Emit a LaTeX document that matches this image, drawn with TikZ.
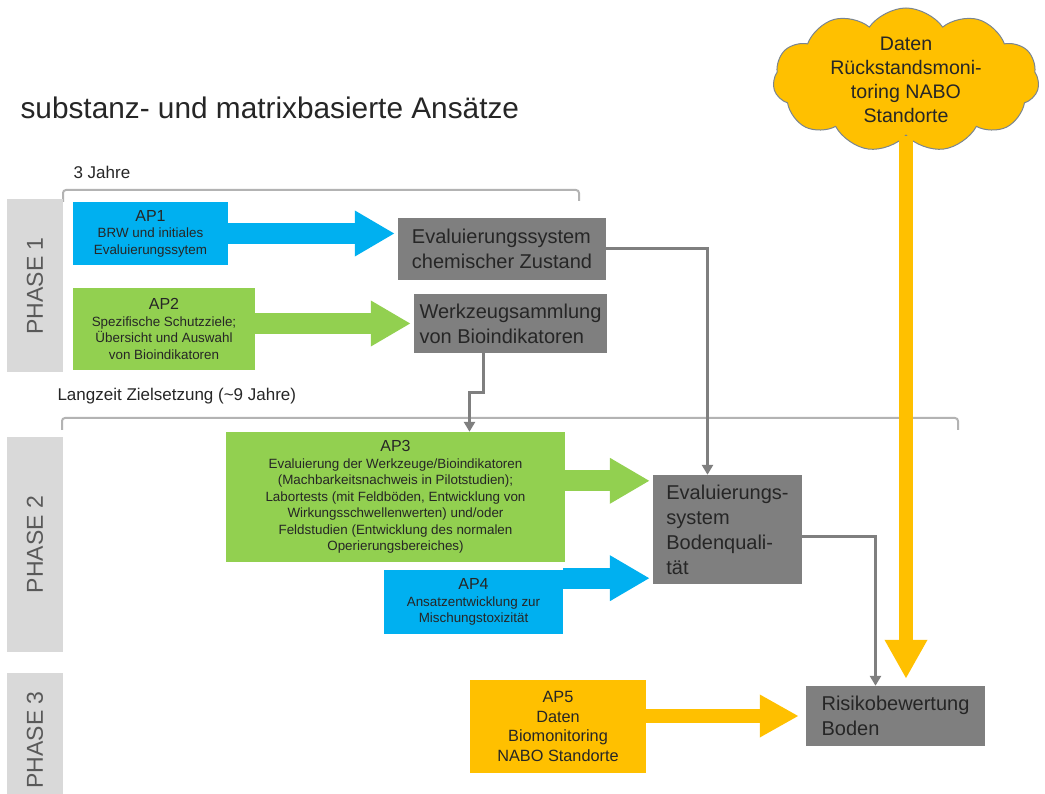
\documentclass[tikz,border=0pt]{standalone}
\usepackage{fontspec}
\setmainfont{Liberation Sans}
\usepackage{tikz}
\usetikzlibrary{arrows.meta, positioning, shapes.symbols, calc}

\definecolor{apblue}{HTML}{00B0F0}
\definecolor{apgreen}{HTML}{92D050}
\definecolor{apyellow}{HTML}{FFC000}
\definecolor{boxgray}{HTML}{7F7F7F}
\definecolor{phasegray}{HTML}{D9D9D9}
\definecolor{bracegray}{HTML}{B3B3B3}
\definecolor{textgray}{HTML}{262626}
\definecolor{cloudedge}{HTML}{7A8591}

\newcommand{\aphead}[1]{{\fontsize{16}{18}\selectfont #1}}

\tikzstyle{apbox} = [rectangle, align=center, text centered, inner sep=2pt, text=textgray, font=\fontsize{13.4}{16.5}\selectfont]
\tikzstyle{result} = [rectangle, align=left, fill=boxgray, text=textgray, inner sep=0pt, font=\fontsize{20}{25}\selectfont]
\tikzstyle{phase} = [rectangle, fill=phasegray, rotate=90, text=black!65, font=\fontsize{23}{26}\selectfont, minimum height=56pt]
\tikzstyle{brace} = [draw=bracegray, line width=2pt, rounded corners=3pt]
\tikzstyle{link} = [draw=boxgray, line width=3pt, -{Triangle[length=10pt, width=11pt]}]
\tikzstyle{fatarrow} = [line width=21pt, -{Triangle[length=40pt, width=43pt]}]
\tikzstyle{slimarrow} = [line width=14pt, -{Triangle[length=39pt, width=40pt]}]

\begin{document}
\begin{tikzpicture}[x=1pt, y=-1pt]
\useasboundingbox (0,0) rectangle (1045,794);

\node (title) [anchor=west, text=textgray, font=\fontsize{29.8}{34}\selectfont] at (17,108) {substanz- und matrixbasierte Ansätze};
\node (short) [anchor=west, text=textgray, font=\fontsize{17}{20}\selectfont] at (70,172) {3 Jahre};
\node (long) [anchor=west, text=textgray, font=\fontsize{17}{20}\selectfont] at (54,396) {Langzeit Zielsetzung (\textasciitilde 9 Jahre)};

% time spans
\draw [brace] (63,202) -- (63,190) -- (579,190) -- (579,201);
\draw [brace] (62,430) -- (62,418) -- (958,418) -- (958,430);

\node (ph1) [phase, minimum width=173pt] at (35,286) {PHASE 1};
\node (ph2) [phase, minimum width=215pt] at (35,544.5) {PHASE 2};
\node (ph3) [phase, minimum width=134pt] at (35,740) {PHASE 3};

\node (ap1) [apbox, fill=apblue, minimum width=155pt, minimum height=63pt] at (150.5,233.5) {\aphead{AP1}\\BRW und initiales\\Evaluierungssytem};
\node (ap2) [apbox, fill=apgreen, minimum width=182pt, minimum height=82pt] at (164,329) {\aphead{AP2}\\Spezifische Schutzziele;\\Übersicht und Auswahl\\von Bioindikatoren};
\node (ap3) [apbox, fill=apgreen, minimum width=339pt, minimum height=130pt] at (395.5,497) {\aphead{AP3}\\Evaluierung der Werkzeuge/Bioindikatoren\\(Machbarkeitsnachweis in Pilotstudien);\\Labortests (mit Feldböden, Entwicklung von\\Wirkungsschwellenwerten) und/oder\\Feldstudien (Entwicklung des normalen\\Operierungsbereiches)};
\node (ap4) [apbox, fill=apblue, minimum width=179pt, minimum height=64pt] at (473.5,602) {\aphead{AP4}\\Ansatzentwicklung zur\\Mischungstoxizität};
\node (ap5) [apbox, fill=apyellow, minimum width=176pt, minimum height=93pt, font=\fontsize{16.3}{19.5}\selectfont] at (558,726.5) {AP5\\Daten\\Biomonitoring\\NABO Standorte};

\node (chem) [result, minimum width=208pt, minimum height=62pt] at (502,249) {Evaluierungssystem\\chemischer Zustand};
\node (werk) [result, minimum width=193pt, minimum height=59pt] at (510.5,323.5) {Werkzeugsammlung\\von Bioindikatoren};
\node (bq) [result, minimum width=149pt, minimum height=109pt] at (727.5,529.5) {Evaluierungs-\\system\\Bodenquali-\\tät};
\node (risk) [result, minimum width=179pt, minimum height=60pt] at (895.5,716) {Risikobewertung\\Boden};

\node (data) [cloud, cloud puffs=11, cloud puff arc=110, aspect=1.9, fill=apyellow, draw=cloudedge, line width=1pt, inner sep=-10pt, minimum width=266pt, minimum height=144pt, align=center, text=textgray, font=\fontsize{19.6}{24}\selectfont] at (906,80) {Daten\\Rückstandsmoni-\\toring NABO\\Standorte};

\coordinate (bqtop) at ($(bq.north west)+(0,6)$);
\coordinate (bqlow) at ($(bq.south west)+(0,-6)$);

% work packages into results
\draw [fatarrow, apblue, shorten >=3pt] (ap1.east) -- (ap1.east -| chem.west);
\draw [fatarrow, apgreen, shorten >=3pt] (ap2.east |- werk.west) -- (werk.west);
\draw [fatarrow, apgreen, shorten >=3pt] (ap3.east |- bqtop) -- (bqtop);
\draw [fatarrow, apblue, shorten >=3pt] (ap4.east |- bqlow) -- (bqlow);
\draw [slimarrow, apyellow, shorten >=7pt] (ap5.east |- risk.west) -- (risk.west);
\draw [slimarrow, apyellow, shorten >=7pt] (data.south) -- (data.south |- risk.north);

% results feeding on
\draw [link] (chem.east) -| ([xshift=-20pt]bq.north);
\draw [link] ([xshift=-27pt]werk.south) -- ++(0,39) -| ([xshift=74pt]ap3.north);
\draw [link] ([yshift=-7pt]bq.east) -| ([xshift=-20pt]risk.north);

\end{tikzpicture}
\end{document}
